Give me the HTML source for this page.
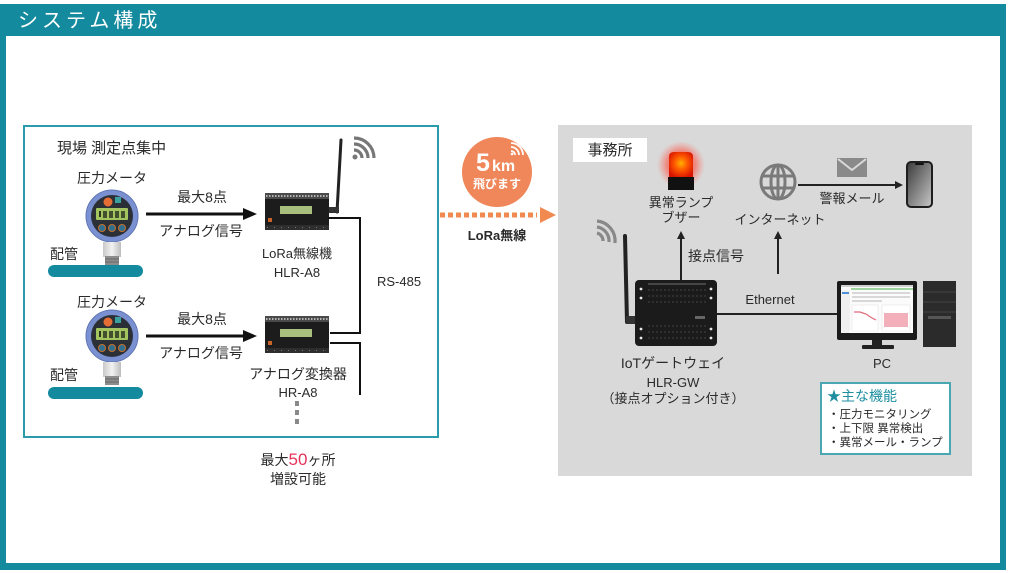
<!DOCTYPE html>
<html><head><meta charset="utf-8">
<style>
html,body{margin:0;padding:0;background:#fff;}
svg{display:block;}
text{font-family:"Liberation Sans","Noto Sans CJK JP",sans-serif;fill:#2a2a2a;}
</style></head><body>
<svg width="1024" height="573" viewBox="0 0 1024 573" xmlns="http://www.w3.org/2000/svg">
<defs>
  <linearGradient id="stemg" x1="0" x2="1" y1="0" y2="0">
    <stop offset="0" stop-color="#c9c9c9"/><stop offset=".5" stop-color="#f2f2f2"/><stop offset="1" stop-color="#bdbdbd"/>
  </linearGradient>
  <radialGradient id="glow" cx=".5" cy=".5" r=".5">
    <stop offset="0" stop-color="#ff3b2f" stop-opacity=".85"/><stop offset=".6" stop-color="#ff4a3a" stop-opacity=".55"/><stop offset="1" stop-color="#ff6a5a" stop-opacity="0"/>
  </radialGradient>
  <radialGradient id="lamp" cx=".5" cy=".45" r=".6">
    <stop offset="0" stop-color="#ffb000"/><stop offset=".45" stop-color="#ff5a00"/><stop offset="1" stop-color="#d81400"/>
  </radialGradient>
  <linearGradient id="phg" x1="0" y1="0" x2="1" y2="1">
    <stop offset="0" stop-color="#3a3a3a"/><stop offset=".6" stop-color="#8f8f8f"/><stop offset="1" stop-color="#c8c8c8"/>
  </linearGradient>
  <g id="gauge">
    <circle r="26" fill="#7a90d0" stroke="#6076b6" stroke-width="1"/>
    <circle r="21" fill="#2b2f36"/>
    <circle cx="-4" cy="-14" r="4.5" fill="#e66e35"/>
    <rect x="3" y="-19" width="6" height="6" fill="#3aa0a0"/>
    <rect x="-16" y="-8" width="32" height="12" rx="1" fill="#a3c45e"/>
    <rect x="-13" y="-5" width="2" height="6" fill="#2b3320"/>
    <rect x="-9" y="-5" width="4" height="7" fill="#2b3320" opacity=".8"/>
    <rect x="-3" y="-5" width="4" height="7" fill="#2b3320" opacity=".8"/>
    <rect x="3" y="-5" width="4" height="7" fill="#2b3320" opacity=".8"/>
    <rect x="9" y="-5" width="4" height="7" fill="#2b3320" opacity=".8"/>
    <circle cx="-10" cy="12" r="3.5" fill="#2f6f8f" stroke="#c8702a" stroke-width="1"/>
    <circle cx="0" cy="12" r="3.5" fill="#2f6f8f" stroke="#c8702a" stroke-width="1"/>
    <circle cx="10" cy="12" r="3.5" fill="#2f6f8f" stroke="#c8702a" stroke-width="1"/>
    <rect x="-9" y="26" width="18" height="15" fill="url(#stemg)"/>
    <rect x="-7" y="40" width="14" height="9" fill="#8d8d8d"/>
    <line x1="-7" y1="43" x2="7" y2="43" stroke="#666" stroke-width="1"/>
    <line x1="-7" y1="46" x2="7" y2="46" stroke="#666" stroke-width="1"/>
  </g>
  <g id="dev">
    <rect x="0" y="0" width="64" height="6" fill="#4a4a4a"/>
    <line x1="1" y1="3" x2="63" y2="3" stroke="#b5b5b5" stroke-width="2" stroke-dasharray="1.5 1.5"/>
    <rect x="0" y="6" width="64" height="26" fill="#1c1c1c"/>
    <rect x="15" y="13" width="32" height="8" fill="#a9bf7e"/>
    <rect x="3" y="25" width="4" height="4" fill="#c8642a"/>
    <rect x="0" y="32" width="64" height="5" fill="#2e2e2e"/>
    <line x1="2" y1="34.5" x2="62" y2="34.5" stroke="#777" stroke-width="1" stroke-dasharray="1 6"/>
  </g>
</defs>

<!-- outer frame -->
<rect x="0" y="4" width="1006" height="32" fill="#138a9e"/>
<rect x="0" y="36" width="6" height="534" fill="#138a9e"/>
<rect x="1000" y="36" width="6" height="534" fill="#138a9e"/>
<rect x="0" y="563" width="1006" height="7" fill="#138a9e"/>
<text x="18" y="27" font-size="20" letter-spacing="4" style="fill:#fff">システム構成</text>

<!-- left box -->
<rect x="24" y="126" width="414" height="311" fill="none" stroke="#2a9bab" stroke-width="2"/>
<text x="57" y="153" font-size="15">現場 測定点集中</text>

<!-- row 1 -->
<text x="112" y="183" font-size="14" text-anchor="middle">圧力メータ</text>
<use href="#gauge" x="112" y="216"/>
<rect x="48" y="265" width="95" height="12" rx="6" fill="#138a9e"/>
<text x="50" y="259" font-size="14">配管</text>
<text x="202" y="202" font-size="14" text-anchor="middle">最大8点</text>
<line x1="146" y1="214" x2="246" y2="214" stroke="#111" stroke-width="3"/>
<polygon points="243,208 257,214 243,220" fill="#111"/>
<text x="201" y="236" font-size="14" text-anchor="middle">アナログ信号</text>
<line x1="337" y1="212" x2="341" y2="140" stroke="#222" stroke-width="3" stroke-linecap="round"/>
<rect x="328" y="207" width="11" height="6" fill="#333"/>
<use href="#dev" x="265" y="193"/>
<g fill="none" stroke="#777" stroke-width="3.2">
  <path d="M354,150 A8,8 0 0 1 362,158"/>
  <path d="M354,144 A14,14 0 0 1 368,158"/>
  <path d="M354,138 A20,20 0 0 1 374,158"/>
</g>
<circle cx="355" cy="157" r="2.5" fill="#777"/>
<text x="297" y="258" font-size="13" text-anchor="middle">LoRa無線機</text>
<text x="297" y="277" font-size="13" text-anchor="middle">HLR-A8</text>
<text x="377" y="286" font-size="13">RS-485</text>

<!-- bus -->
<polyline points="328,218 360,218 360,333 330,333" fill="none" stroke="#111" stroke-width="2"/>
<polyline points="330,343 360,343 360,395" fill="none" stroke="#111" stroke-width="2"/>

<!-- row 2 -->
<text x="112" y="307" font-size="14" text-anchor="middle">圧力メータ</text>
<use href="#gauge" x="112" y="336"/>
<rect x="48" y="387" width="95" height="12" rx="6" fill="#138a9e"/>
<text x="50" y="380" font-size="14">配管</text>
<text x="202" y="324" font-size="14" text-anchor="middle">最大8点</text>
<line x1="146" y1="336" x2="246" y2="336" stroke="#111" stroke-width="3"/>
<polygon points="243,330 257,336 243,342" fill="#111"/>
<text x="201" y="358" font-size="14" text-anchor="middle">アナログ信号</text>
<use href="#dev" x="265" y="316"/>
<text x="298" y="379" font-size="14" text-anchor="middle">アナログ変換器</text>
<text x="298" y="397" font-size="13" text-anchor="middle">HR-A8</text>
<rect x="295" y="401" width="4" height="5" fill="#888"/>
<rect x="295" y="410" width="4" height="5" fill="#888"/>
<rect x="295" y="419" width="4" height="5" fill="#888"/>

<text x="298" y="465" font-size="14" text-anchor="middle">最大<tspan font-size="17" style="fill:#e8325a">50</tspan>ヶ所</text>
<text x="298" y="484" font-size="14" text-anchor="middle">増設可能</text>

<!-- middle badge -->
<circle cx="497" cy="172" r="35" fill="#f0875a"/>
<text x="476" y="171" font-size="25" font-weight="bold" style="fill:#fff">5</text>
<text x="492" y="171" font-size="16" font-weight="bold" style="fill:#fff">km</text>
<text x="497" y="188" font-size="12" font-weight="bold" text-anchor="middle" style="fill:#fff">飛びます</text>
<g fill="none" stroke="#fff" stroke-width="1.8">
  <path d="M511,151 A4,4 0 0 1 515,155"/>
  <path d="M511,147 A8,8 0 0 1 519,155"/>
  <path d="M511,143 A12,12 0 0 1 523,155"/>
</g>
<circle cx="512" cy="154" r="1.3" fill="#fff"/>
<line x1="440" y1="215" x2="537" y2="215" stroke="#f08a50" stroke-width="5" stroke-dasharray="5 3"/>
<polygon points="540,207 556,215 540,223" fill="#f08a50"/>
<text x="497" y="240" font-size="13" font-weight="bold" text-anchor="middle">LoRa無線</text>

<!-- right office box -->
<rect x="558" y="125" width="414" height="351" fill="#d9d9d9"/>
<rect x="573" y="138" width="74" height="24" fill="#fff"/>
<text x="610" y="155" font-size="15" text-anchor="middle">事務所</text>

<!-- lamp -->
<circle cx="681" cy="165" r="24" fill="url(#glow)"/>
<path d="M669,177 L669,157 Q669,152 674,152 L688,152 Q693,152 693,157 L693,177 Z" fill="url(#lamp)"/>
<rect x="668" y="177" width="26" height="13" fill="#111"/>
<text x="681" y="207" font-size="13" text-anchor="middle">異常ランプ</text>
<text x="681" y="222" font-size="13" text-anchor="middle">ブザー</text>
<line x1="681" y1="280" x2="681" y2="238" stroke="#222" stroke-width="2"/>
<polygon points="677,239 681,231 685,239" fill="#222"/>
<text x="688" y="261" font-size="14">接点信号</text>

<!-- globe -->
<g fill="none" stroke="#7a7a7a" stroke-width="3">
  <circle cx="778" cy="182" r="17"/>
  <ellipse cx="778" cy="182" rx="7" ry="17"/>
  <line x1="778" y1="165" x2="778" y2="199"/>
  <line x1="762" y1="176" x2="794" y2="176"/>
  <line x1="762" y1="188" x2="794" y2="188"/>
</g>
<text x="780" y="224" font-size="13" text-anchor="middle">インターネット</text>
<line x1="778" y1="274" x2="778" y2="238" stroke="#222" stroke-width="2"/>
<polygon points="774,239 778,231 782,239" fill="#222"/>
<line x1="798" y1="185" x2="896" y2="185" stroke="#222" stroke-width="2"/>
<polygon points="895,181 903,185 895,189" fill="#222"/>
<rect x="837" y="158" width="30" height="19" fill="#8a8a8a"/>
<polyline points="838,159 852,170 866,159" fill="none" stroke="#d9d9d9" stroke-width="2"/>
<text x="852" y="203" font-size="13" text-anchor="middle">警報メール</text>
<rect x="907" y="162" width="25" height="45" rx="4" fill="url(#phg)" stroke="#1e1e1e" stroke-width="2"/>
<rect x="915" y="163" width="9" height="2" rx="1" fill="#111"/>

<!-- gateway -->
<g fill="none" stroke="#888" stroke-width="3.2">
  <path d="M597,233 A8,8 0 0 1 603,241"/>
  <path d="M597,227 A14,14 0 0 1 609,242"/>
  <path d="M597,221 A20,20 0 0 1 615,243"/>
</g>
<line x1="625" y1="236" x2="627" y2="322" stroke="#222" stroke-width="4" stroke-linecap="round"/>
<rect x="626" y="316" width="12" height="8" fill="#333"/>
<rect x="635" y="280" width="82" height="66" rx="4" fill="#1b1b1b"/>
<line x1="648" y1="284" x2="706" y2="284" stroke="#555" stroke-width="1.5"/>
<g stroke="#2f2f2f" stroke-width="2" stroke-dasharray="2 2">
  <line x1="648" y1="290" x2="706" y2="290"/>
  <line x1="648" y1="296" x2="706" y2="296"/>
  <line x1="648" y1="302" x2="706" y2="302"/>
  <line x1="648" y1="326" x2="706" y2="326"/>
  <line x1="648" y1="332" x2="706" y2="332"/>
  <line x1="648" y1="338" x2="706" y2="338"/>
</g>
<g fill="#e8e8e8">
  <circle cx="641" cy="289" r="1.4"/><circle cx="641" cy="298" r="1.4"/>
  <circle cx="641" cy="329" r="1.4"/><circle cx="641" cy="338" r="1.4"/>
  <circle cx="711" cy="289" r="1.4"/><circle cx="711" cy="298" r="1.4"/>
  <circle cx="711" cy="329" r="1.4"/><circle cx="711" cy="338" r="1.4"/>
</g>
<rect x="695" y="316" width="10" height="3" fill="#666"/>
<text x="770" y="304" font-size="13" text-anchor="middle">Ethernet</text>
<line x1="717" y1="314" x2="838" y2="314" stroke="#222" stroke-width="2"/>
<text x="673" y="368" font-size="14" text-anchor="middle">IoTゲートウェイ</text>
<text x="673" y="387" font-size="13" text-anchor="middle">HLR-GW</text>
<text x="673" y="403" font-size="13" text-anchor="middle">（接点オプション付き）</text>

<!-- PC -->
<rect x="837" y="281" width="80" height="59" rx="2" fill="#1a1a1a"/>
<rect x="841" y="285" width="72" height="48" fill="#fbfbfb"/>
<rect x="841" y="285" width="72" height="2" fill="#cfcfcf"/>
<rect x="851" y="288" width="62" height="2" fill="#9fd79f"/>
<rect x="841" y="290" width="9" height="43" fill="#f0f0f0"/>
<rect x="842" y="292" width="7" height="2" fill="#4a8fd8"/>
<g fill="#d8d8d8">
  <rect x="852" y="292" width="58" height="2"/>
  <rect x="852" y="296" width="58" height="2"/>
  <rect x="852" y="300" width="30" height="2"/>
</g>
<rect x="852" y="305" width="26" height="26" fill="#fff" stroke="#e4e4e4" stroke-width=".6"/>
<rect x="882" y="305" width="28" height="26" fill="#fff" stroke="#e4e4e4" stroke-width=".6"/>
<polyline points="854,312 860,312 866,314 872,318 876,320" fill="none" stroke="#e06a7a" stroke-width="1.2"/>
<rect x="884" y="313" width="24" height="14" fill="#f4b0ba"/>
<rect x="872" y="340" width="10" height="6" fill="#222"/>
<rect x="862" y="345" width="32" height="4" rx="1" fill="#222"/>
<rect x="923" y="281" width="33" height="66" fill="#2b2b2b"/>
<g stroke="#444" stroke-width="1">
  <line x1="923" y1="292" x2="956" y2="292"/>
  <line x1="923" y1="302" x2="956" y2="302"/>
  <line x1="923" y1="312" x2="956" y2="312"/>
</g>
<rect x="928" y="316" width="23" height="3" fill="#555"/>
<text x="882" y="368" font-size="13" text-anchor="middle">PC</text>

<!-- feature box -->
<rect x="821" y="383" width="129" height="71" fill="#fff" stroke="#4aa6b3" stroke-width="2"/>
<text x="827" y="401" font-size="14" style="fill:#1d8fa0">★主な機能</text>
<text x="828" y="418" font-size="11.5">・圧力モニタリング</text>
<text x="828" y="432" font-size="11.5">・上下限 異常検出</text>
<text x="828" y="446" font-size="11.5">・異常メール・ランプ</text>
</svg>
</body></html>
